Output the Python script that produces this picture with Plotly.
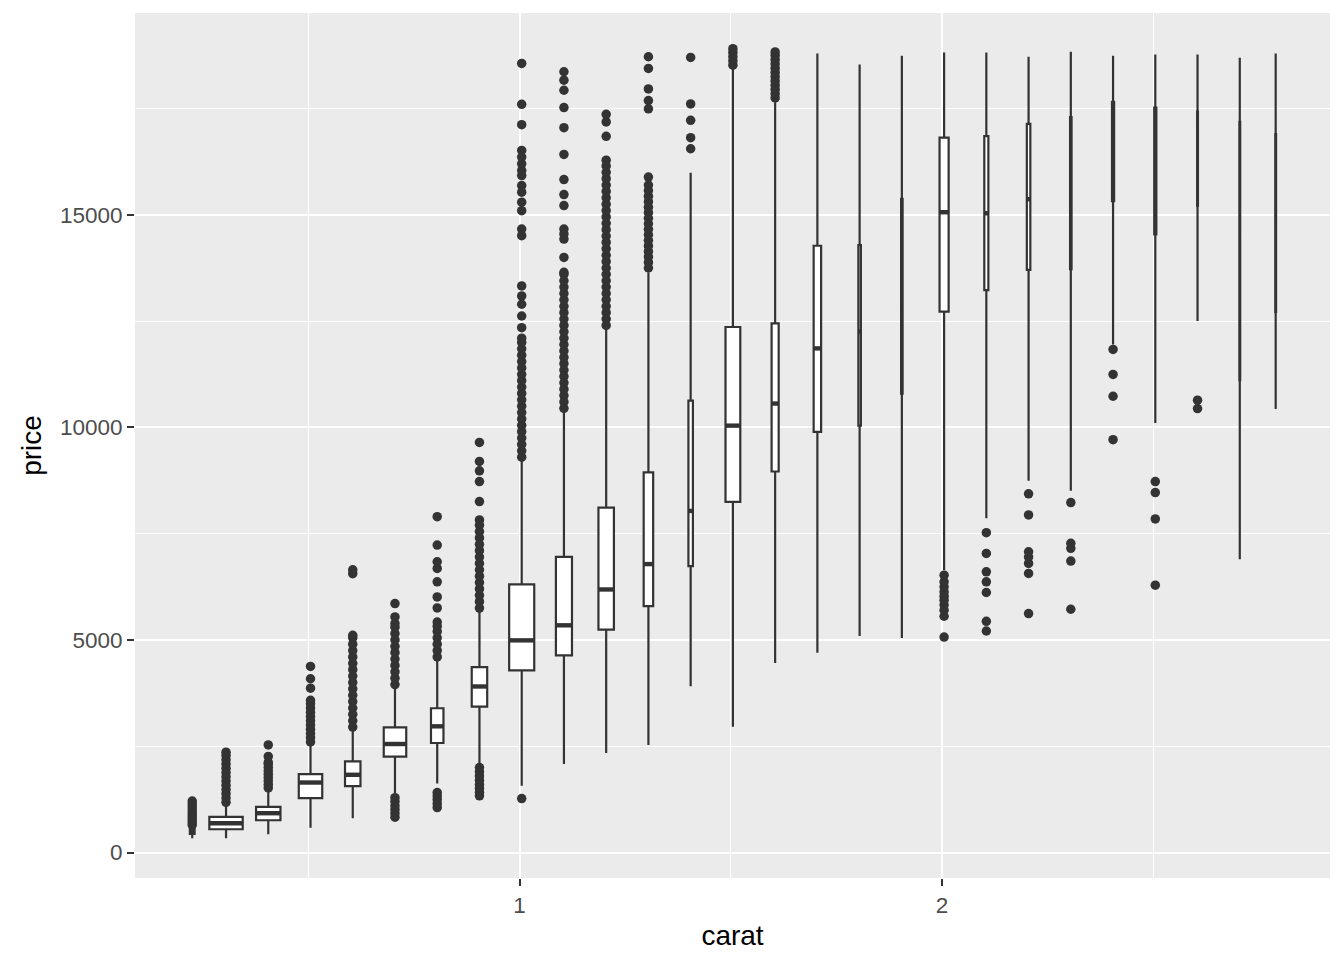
import math
import plotly.graph_objects as go

# one box per 0.1 carat bin (cut_width), x = middle of the carats in the bin
carat_mid = [0.225, 0.305, 0.405, 0.505, 0.605, 0.705, 0.805, 0.905, 1.005, 1.105,
             1.205, 1.305, 1.405, 1.505, 1.605, 1.705, 1.805, 1.905, 2.005, 2.105,
             2.205, 2.305, 2.405, 2.505, 2.605, 2.705, 2.79]
counts = [200, 10000, 5340, 4950, 2150, 4540, 1400, 2150, 5650, 2320,
          2150, 810, 180, 1960, 450, 500, 56, 20, 740, 150,
          110, 20, 40, 40, 6, 6, 6]
whisker_low = [335, 335, 430, 585, 807, 1400, 1624, 2081, 1569, 2081,
               2341, 2530, 3913, 2960, 4456, 4701, 5093, 5046, 6643, 7863,
               8743, 8508, 11953, 10105, 12503, 6896, 10436]
q1 = [440, 548, 760, 1279, 1562, 2254, 2577, 3434, 4283, 4637,
      5244, 5794, 6738, 8248, 8963, 9893, 10042, 10797, 12725, 13228,
      13707, 13723, 15321, 14542, 15219, 11111, 12716]
median = [500, 689, 925, 1647, 1829, 2553, 2969, 3906, 4991, 5345,
          6188, 6785, 8036, 10042, 10561, 11859, 12253, 12834, 15062, 15038,
          15368, 15595, 16689, 16359, 17250, 14500, 15000]
q3 = [580, 838, 1074, 1845, 2143, 2945, 3394, 4361, 6306, 6957,
      8114, 8940, 10632, 12362, 12449, 14273, 14290, 15375, 16815, 16853,
      17138, 17302, 17657, 17523, 17429, 17185, 16902]
whisker_high = [620, 1137, 1451, 2513, 2867, 3866, 4559, 5659, 9239, 10379,
                12307, 13646, 15989, 18443, 17650, 18797, 18537, 18742, 18821, 18821,
                18719, 18837, 18742, 18773, 18773, 18695, 18797]

outliers = [
    [650, 720, 790, 860, 930, 1000, 1070, 1140, 1210],
    [1180, 1280, 1380, 1480, 1580, 1680, 1780, 1880, 1980, 2080, 2180, 2280, 2360],
    [1520, 1600, 1680, 1760, 1840, 1920, 2000, 2080, 2120, 2261, 2530],
    [2600, 2700, 2800, 2900, 3000, 3100, 3200, 3300, 3400, 3500, 3580, 3866, 4088, 4378],
    [2950, 3100, 3250, 3400, 3550, 3700, 3850, 4000, 4150, 4300, 4450, 4600, 4750,
     4900, 5050, 5110, 6560, 6650],
    [830, 920, 1010, 1100, 1200, 1290,
     3950, 4100, 4250, 4400, 4550, 4700, 4850, 5000, 5150, 5300, 5390, 5542, 5857],
    [1057, 1150, 1250, 1330, 1411,
     4600, 4750, 4900, 5050, 5200, 5320, 5423, 5754, 6013, 6367, 6683, 6840, 7233, 7901],
    [1333, 1420, 1510, 1600, 1700, 1800, 1900, 2000,
     5750, 5900, 6050, 6200, 6350, 6500, 6650, 6800, 6950, 7100, 7250, 7400, 7550,
     7700, 7823, 8255, 8727, 8980, 9199, 9648],
    [1270,
     9300, 9450, 9600, 9750, 9900, 10050, 10200, 10350, 10500, 10650, 10800, 10950,
     11100, 11250, 11400, 11550, 11700, 11850, 12000, 12100, 12347, 12621, 12897,
     13093, 13329, 14510, 14667, 15099, 15297, 15533, 15689, 15925, 16043, 16201,
     16360, 16515, 17122, 17601, 18561],
    [10450, 10600, 10750, 10900, 11050, 11200, 11350, 11500, 11650, 11800, 11950,
     12100, 12250, 12400, 12550, 12700, 12850, 13000, 13150, 13300, 13450, 13600,
     13650, 13999, 14431, 14550, 14667, 15217, 15477, 15831, 16421, 17051, 17523,
     17931, 18167, 18366],
    [12400, 12550, 12700, 12850, 13000, 13150, 13300, 13450, 13600, 13750, 13900,
     14050, 14200, 14350, 14500, 14650, 14800, 14950, 15100, 15250, 15400, 15550,
     15700, 15850, 16000, 16150, 16287, 16846, 17185, 17365],
    [13750, 13880, 14010, 14140, 14270, 14400, 14530, 14660, 14790, 14920, 15050,
     15180, 15310, 15440, 15570, 15700, 15888, 17494, 17688, 17963, 18443, 18719],
    [16555, 16815, 17224, 17610, 18703],
    [18520, 18620, 18720, 18820, 18910],
    [17750, 17850, 17950, 18050, 18150, 18250, 18350, 18450, 18550, 18650, 18750, 18831],
    [], [], [],
    [5069, 5558, 5699, 5820, 5935, 6030, 6131, 6250, 6367, 6525],
    [5211, 5440, 6117, 6367, 6603, 7037, 7524],
    [5621, 6565, 6801, 6950, 7075, 7941, 8437],
    [5723, 6856, 7155, 7273, 8232],
    [9711, 10733, 11245, 11835],
    [6289, 7847, 8467, 8727],
    [10443, 10640],
    [], [],
]

x_ticks = [1, 2]
x_tick_labels = ['1', '2']
y_ticks = [0, 5000, 10000, 15000]
y_tick_labels = ['0', '5000', '10000', '15000']

ink = '#333333'
max_width = 0.079  # varwidth: box width grows with sqrt(n)

fig = go.Figure()

widths = [max_width * math.sqrt(n / max(counts)) for n in counts]

for i, xc in enumerate(carat_mid):
    fig.add_trace(go.Box(
        x=[xc],
        q1=[q1[i]],
        median=[median[i]],
        q3=[q3[i]],
        lowerfence=[whisker_low[i]],
        upperfence=[whisker_high[i]],
        width=widths[i],
        fillcolor='white',
        line=dict(color=ink, width=2.2),
        whiskerwidth=0,
        boxpoints=False,
        hoverinfo='skip',
        showlegend=False
    ))

# thicker median bars, like ggplot's fatten = 2
med_x, med_y = [], []
for xc, w, m in zip(carat_mid, widths, median):
    med_x += [xc - w / 2, xc + w / 2, None]
    med_y += [m, m, None]

fig.add_trace(go.Scatter(
    x=med_x, y=med_y, mode='lines',
    line=dict(color=ink, width=4.4),
    hoverinfo='skip', showlegend=False
))

out_x, out_y = [], []
for xc, pts in zip(carat_mid, outliers):
    out_x += [xc] * len(pts)
    out_y += pts

fig.add_trace(go.Scatter(
    x=out_x, y=out_y, mode='markers',
    marker=dict(color=ink, size=9.5, line=dict(width=0)),
    hoverinfo='skip', showlegend=False
))

# the page body adds 8px around the figure, so the figure is a bit smaller
fig.update_layout(
    width=1336,
    height=952,
    paper_bgcolor='white',
    plot_bgcolor='#EBEBEB',
    boxmode='overlay',
    margin=dict(l=127, r=14, t=5, b=82),
    font=dict(family='Liberation Sans, Arial, sans-serif', color='black'),
    xaxis=dict(
        range=[0.0895, 2.9186],
        tickvals=x_ticks,
        ticktext=x_tick_labels,
        ticks='outside', ticklen=7, tickwidth=2.2, tickcolor=ink,
        tickfont=dict(size=22.5, color='#4D4D4D'),
        showgrid=True, gridcolor='white', gridwidth=2.2,
        minor=dict(tickvals=[0.5, 1.5, 2.5], showgrid=True,
                   gridcolor='white', gridwidth=1.1, ticks=''),
        zeroline=False, showline=False,
        title=dict(text='carat', font=dict(size=28), standoff=8)
    ),
    yaxis=dict(
        range=[-599, 19748],
        tickvals=y_ticks,
        ticktext=y_tick_labels,
        ticks='outside', ticklen=7, tickwidth=2.2, tickcolor=ink,
        tickfont=dict(size=22.5, color='#4D4D4D'),
        showgrid=True, gridcolor='white', gridwidth=2.2,
        minor=dict(tickvals=[2500, 7500, 12500, 17500], showgrid=True,
                   gridcolor='white', gridwidth=1.1, ticks=''),
        zeroline=False, showline=False,
        title=dict(text='price', font=dict(size=28), standoff=10)
    )
)

fig.write_html("out.html")
